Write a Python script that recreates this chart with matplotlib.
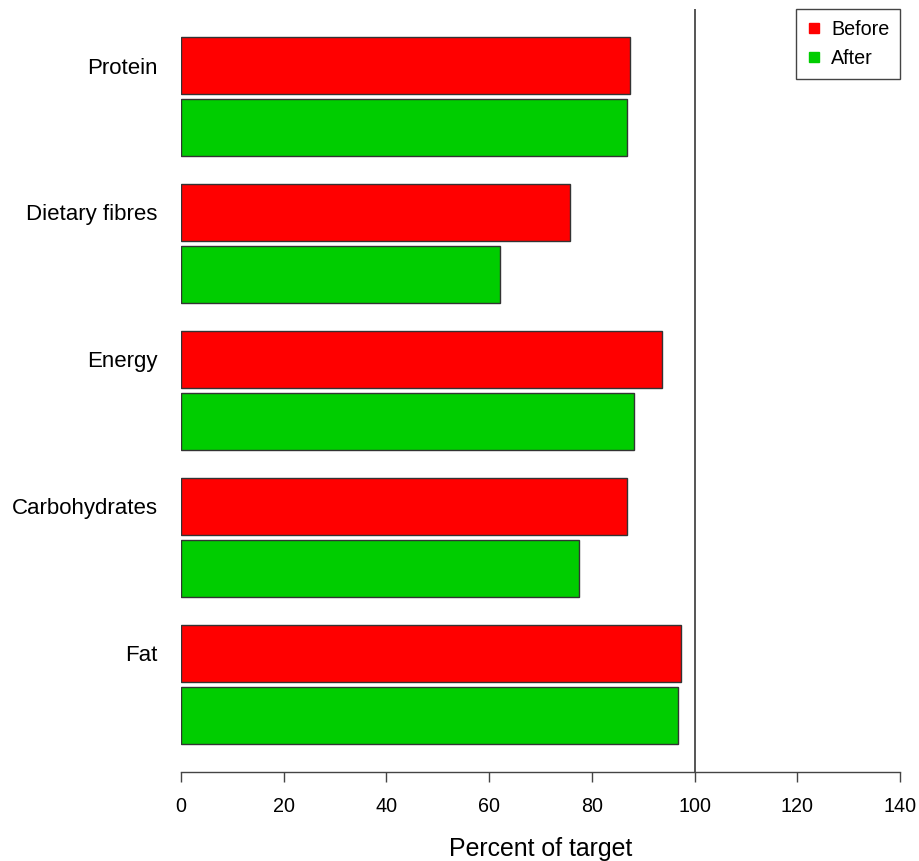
import matplotlib.pyplot as plt
import numpy as np
from matplotlib.lines import Line2D

plt.rcParams["font.family"] = ["Liberation Sans", "DejaVu Sans"]

# données (pourcentage de l'objectif)
nutrients = ["Protein", "Dietary fibres", "Energy", "Carbohydrates", "Fat"]
before = [87.5, 75.7, 93.7, 86.8, 97.4]
after = [86.9, 62.2, 88.2, 77.5, 96.7]
target = 100
x_ticks = [0, 20, 40, 60, 80, 100, 120, 140]

RED = "#FF0000"
GREEN = "#00CD00"

fig = plt.figure(figsize=(9.2, 8.61), dpi=100)
ax = fig.add_axes([181 / 920, 89 / 861, 719 / 920, 763 / 861])

# positions façon barplot(beside=TRUE) de R : barres de 1, écart 0.1, groupes séparés de 0.5
idx = np.arange(len(nutrients))
y_before = idx * 2.6 + 0.5
y_after = idx * 2.6 + 1.6

ax.barh(y_before, before, height=1.0, color=RED, edgecolor="#333333", linewidth=1.0)
ax.barh(y_after, after, height=1.0, color=GREEN, edgecolor="#333333", linewidth=1.0)

ax.axvline(target, color="#555555", linewidth=1.4)

ax.set_xlim(0, 140)
ax.set_ylim(12.5 + 0.5, -0.5)

# axe x
ax.set_xticks(x_ticks)
ax.set_xticklabels([str(t) for t in x_ticks], fontsize=14.2)
ax.tick_params(axis="x", length=7, width=1, color="#444444", pad=11)
ax.set_xlabel("Percent of target", fontsize=17.9, labelpad=15)

# étiquettes à gauche, alignées sur la barre "Before"
ax.set_yticks(y_before)
ax.set_yticklabels(nutrients, fontsize=16)
ax.tick_params(axis="y", length=0, pad=17)

for side in ("top", "right", "left"):
    ax.spines[side].set_visible(False)
ax.spines["bottom"].set_color("#444444")
ax.spines["bottom"].set_linewidth(1)

handles = [
    Line2D([], [], linestyle="none", marker="s", markersize=6.5, color=RED),
    Line2D([], [], linestyle="none", marker="s", markersize=6.5, color=GREEN),
]
leg = ax.legend(
    handles,
    ["Before", "After"],
    loc="upper right",
    bbox_to_anchor=(1.0, 1.0),
    borderaxespad=0,
    fontsize=14.2,
    fancybox=False,
    framealpha=1,
    edgecolor="#444444",
    handlelength=0.7,
    handletextpad=0.5,
    labelspacing=0.5,
    borderpad=0.55,
)
leg.get_frame().set_linewidth(1)

fig.savefig("out.png", dpi=100)
